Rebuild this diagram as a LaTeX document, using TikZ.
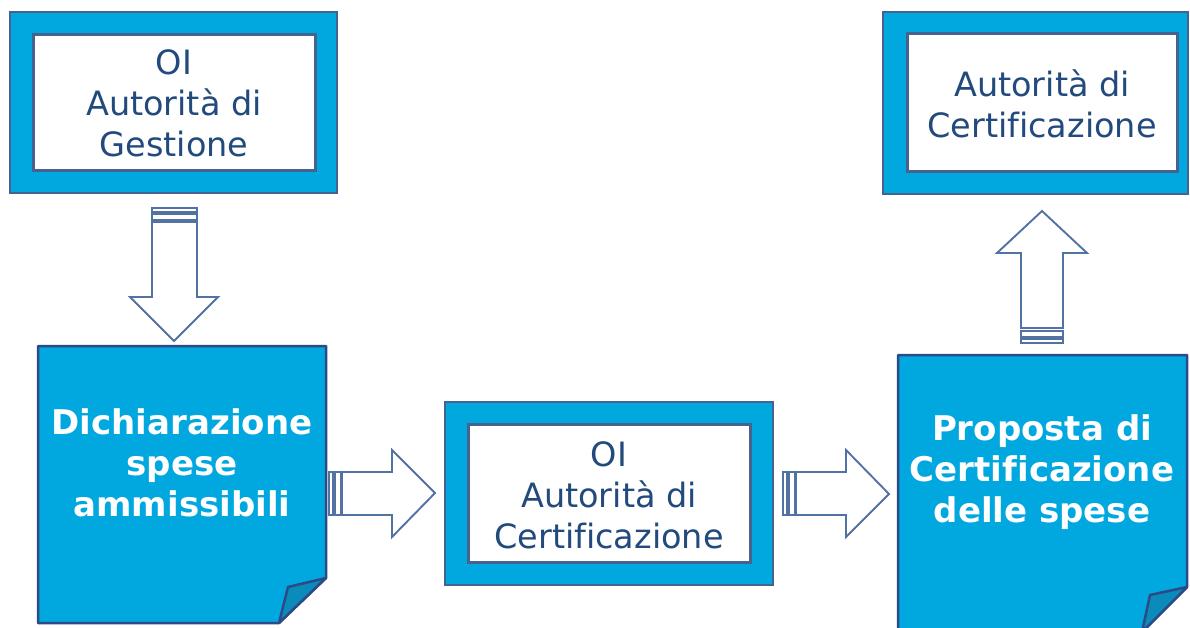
\documentclass[tikz,border=0pt]{standalone}
\usepackage{fontspec}
\setmainfont[Ligatures=NoCommon]{DejaVu Sans}
\definecolor{boxcyan}{HTML}{00A8DF}
\definecolor{boxedge}{HTML}{46628E}
\definecolor{noteedge}{HTML}{2C4A86}
\definecolor{flapfill}{HTML}{0A8BBA}
\definecolor{txtblue}{HTML}{234A7D}
\definecolor{arrowedge}{HTML}{5172A3}
\begin{document}
\begin{tikzpicture}[x=1pt,y=-1pt,
  framebox/.style={fill=boxcyan,draw=boxedge,line width=2pt},
  innerbox/.style={fill=white,draw=boxedge,line width=3pt},
  notebox/.style={fill=boxcyan,draw=noteedge,line width=2.5pt,line join=round},
  flap/.style={fill=flapfill,draw=noteedge,line width=2.5pt,line join=round},
  plaintxt/.style={text=txtblue,font=\fontsize{33.5}{41}\selectfont,align=center,inner sep=0pt},
  boldtxt/.style={text=white,font=\fontsize{34}{41}\selectfont\bfseries,align=center,inner sep=0pt},
  blockarrow/.style={fill=white,draw=arrowedge,line width=1.9pt,line join=miter},
  stripe/.style={fill=white,draw=arrowedge,line width=1.4pt}]
\useasboundingbox (0,0) rectangle (1190,628);
\clip (0,0) rectangle (1190,628);

% framed boxes: cyan frame with a white panel
\draw[framebox] (10,12) rectangle (337,193);
\draw[innerbox] (33,35) rectangle (315,171);
\node[plaintxt] (ag) at (174,103) {OI\\Autorità di\\Gestione};

\draw[framebox] (445,402) rectangle (773,585);
\draw[innerbox] (468,424) rectangle (750,562);
\node[plaintxt] (oiac) at (609,495) {OI\\Autorità di\\Certificazione};

\draw[framebox] (883,12) rectangle (1188,194);
\draw[innerbox] (907,34) rectangle (1177,172);
\node[plaintxt] (ac) at (1042,104) {Autorità di\\Certificazione};

% notes with a turned-up corner
\draw[notebox] (38,346) -- (326,346) -- (326,578) -- (279,623) -- (38,623) -- cycle;
\draw[flap] (326,578) -- (288,587) -- (279,623) -- cycle;
\node[boldtxt] (dich) at (182,463) {Dichiarazione\\spese\\ammissibili};

\draw[notebox] (898,355) -- (1187,355) -- (1187,587) -- (1142,632) -- (898,632) -- cycle;
\draw[flap] (1187,587) -- (1150,595) -- (1142,632) -- cycle;
\node[boldtxt] (prop) at (1042,472) {Proposta di\\Certificazione\\delle spese};

% striped block arrows
% down: Gestione -> Dichiarazione
\draw[stripe] (152,208) rectangle (197,212);
\draw[stripe] (152,214) rectangle (197,220);
\draw[blockarrow] (152,222) -- (197,222) -- (197,297) -- (218,297) -- (174,341)
  -- (130,297) -- (152,297) -- cycle;

% right: Dichiarazione -> OI Certificazione
\draw[stripe] (329,472) rectangle (333,515);
\draw[stripe] (335,472) rectangle (341,515);
\draw[blockarrow] (342,472) -- (392,472) -- (392,450) -- (435,493) -- (392,537)
  -- (392,515) -- (342,515) -- cycle;

% right: OI Certificazione -> Proposta
\draw[stripe] (783,472) rectangle (787,515);
\draw[stripe] (789,472) rectangle (795,515);
\draw[blockarrow] (796,472) -- (846,472) -- (846,450) -- (889,494) -- (846,537)
  -- (846,515) -- (796,515) -- cycle;

% up: Proposta -> Autorita di Certificazione
\draw[stripe] (1021,331) rectangle (1063,337);
\draw[stripe] (1021,339) rectangle (1063,343);
\draw[blockarrow] (1021,328) -- (1021,253) -- (997,253) -- (1042,211) -- (1087,253)
  -- (1063,253) -- (1063,328) -- cycle;
\end{tikzpicture}
\end{document}
